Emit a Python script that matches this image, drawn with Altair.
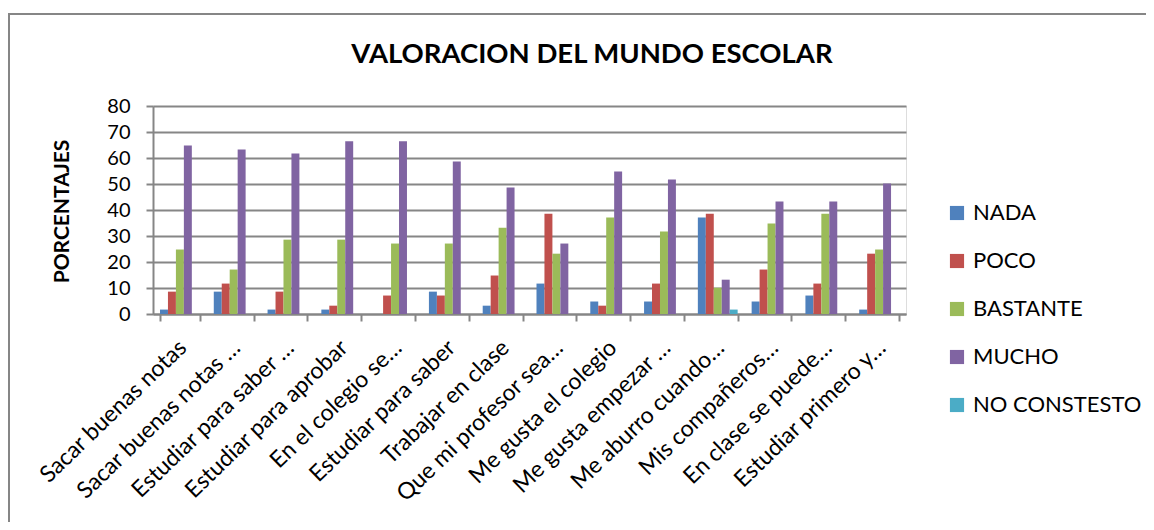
import altair as alt
import pandas as pd

categories = [
    "Sacar buenas notas",
    "Sacar buenas notas …",
    "Estudiar para saber …",
    "Estudiar para aprobar",
    "En el colegio se…",
    "Estudiar para saber",
    "Trabajar en clase",
    "Que mi profesor sea…",
    "Me gusta el colegio",
    "Me gusta empezar …",
    "Me aburro cuando…",
    "Mis compañeros…",
    "En clase se puede…",
    "Estudiar primero y…",
]
series = ["NADA", "POCO", "BASTANTE", "MUCHO", "NO CONSTESTO"]
colors = ["#4F81BD", "#C0504D", "#9BBB59", "#8064A2", "#4BACC6"]

nada = [1.7, 8.6, 1.7, 1.7, 0, 8.6, 3.2, 11.7, 4.8, 4.8, 37.1, 4.8, 7.1, 1.7]
poco = [8.6, 11.7, 8.6, 3.2, 7.1, 7.1, 14.8, 38.6, 3.2, 11.7, 38.6, 17.1, 11.7, 23.2]
bastante = [24.8, 17.1, 28.6, 28.6, 27.1, 27.1, 33.2, 23.2, 37.1, 31.7, 10.1, 34.8, 38.6, 24.8]
mucho = [64.8, 63.3, 61.7, 66.4, 66.4, 58.7, 48.7, 27.1, 54.8, 51.7, 13.2, 43.3, 43.3, 50.2]
no_contesto = [0, 0, 0, 0, 0, 0, 0, 0, 0, 0, 1.7, 0, 0, 0]

title_text = "VALORACION DEL MUNDO ESCOLAR"
y_title = "PORCENTAJES"
y_ticks = [0, 10, 20, 30, 40, 50, 60, 70, 80]

rows = []
for s, vals in zip(series, [nada, poco, bastante, mucho, no_contesto]):
    for c, v in zip(categories, vals):
        rows.append({"categoria": c, "serie": s, "valor": v})
df = pd.DataFrame(rows)

FONT = "Lato"
GRAY = "#868686"

bars = alt.Chart(df).mark_bar().encode(
    x=alt.X(
        "categoria:N",
        sort=categories,
        title=None,
        scale=alt.Scale(paddingInner=0.26, paddingOuter=0.13),
        axis=alt.Axis(
            labelAngle=-44,
            labelAlign="right",
            labelBaseline="top",
            labelFontSize=23,
            labelFont=FONT,
            labelColor="#000000",
            labelPadding=15,
            labelOffset=-5,
            labelLimit=400,
            tickBand="extent",
            tickSize=7,
            tickColor=GRAY,
            tickWidth=2,
            domainColor=GRAY,
            domainWidth=2,
            grid=False,
        ),
    ),
    xOffset=alt.XOffset("serie:N", sort=series, scale=alt.Scale(paddingInner=0, paddingOuter=0)),
    y=alt.Y(
        "valor:Q",
        scale=alt.Scale(domain=[0, 80], nice=False),
        axis=alt.Axis(
            values=y_ticks,
            title=y_title,
            titleFont=FONT,
            titleFontSize=21,
            titleFontWeight="bold",
            titleColor="#000000",
            titleAngle=-90,
            titleX=-91,
            titleY=105,
            titleAlign="center",
            titleBaseline="middle",
            labelFont=FONT,
            labelFontSize=20,
            labelColor="#000000",
            labelPadding=16,
            tickSize=7,
            tickColor=GRAY,
            tickWidth=2,
            domainColor=GRAY,
            domainWidth=2,
            gridColor=GRAY,
            gridWidth=2,
        ),
    ),
    color=alt.Color(
        "serie:N",
        sort=series,
        scale=alt.Scale(domain=series, range=colors),
        legend=alt.Legend(
            title=None,
            orient="none",
            legendX=793,
            legendY=96,
            symbolType="square",
            symbolSize=200,
            symbolStrokeWidth=0,
            labelFont=FONT,
            labelFontSize=22,
            labelColor="#000000",
            labelOffset=5,
            labelLimit=300,
            rowPadding=26,
            padding=0,
        ),
    ),
)

frame_src = pd.DataFrame({"f": [0]})
frame_top = alt.Chart(frame_src).mark_rule(stroke=GRAY, strokeWidth=2).encode(
    x=alt.value(-144), x2=alt.value(1010), y=alt.value(-92)
)
frame_left = alt.Chart(frame_src).mark_rule(stroke=GRAY, strokeWidth=2).encode(
    x=alt.value(-144), y=alt.value(-93), y2=alt.value(430)
)

title = alt.Chart(pd.DataFrame({"t": [title_text]})).mark_text(
    font=FONT, fontSize=27.5, fontWeight="bold", color="#000000",
    align="center", baseline="alphabetic"
).encode(
    text="t:N", x=alt.value(439), y=alt.value(-43)
)

chart = alt.layer(frame_top, frame_left, bars, title).properties(
    width=753,
    height=208,
    padding={"left": 145, "top": 98, "right": 240, "bottom": 208},
    autosize=alt.AutoSizeParams(type="none"),
).configure_view(stroke=None).configure(background="white")

chart.save("out.html", embed_options={"renderer": "svg", "actions": False})
